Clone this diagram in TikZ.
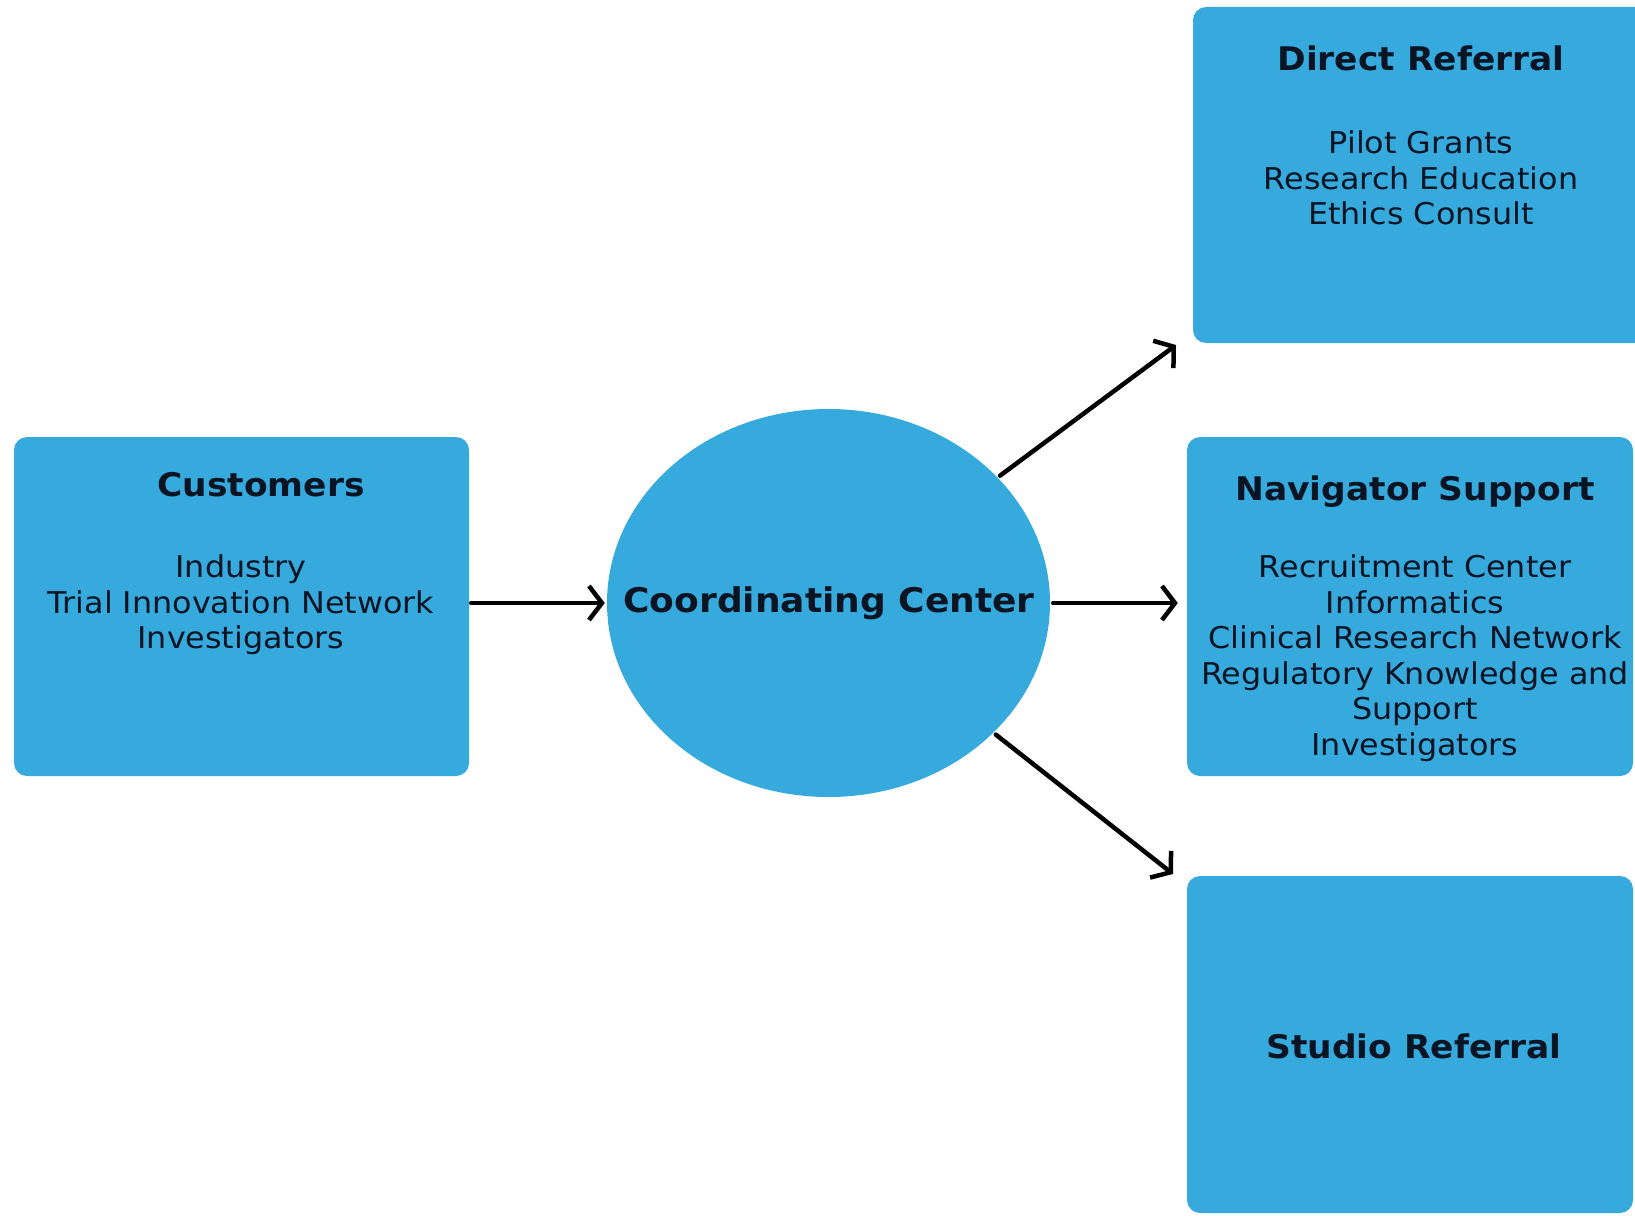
\documentclass[tikz,border=0pt]{standalone}
\usepackage{fontspec}
\setmainfont{DejaVu Sans}[FakeStretch=1.06]
\usepackage{tikz}
\usetikzlibrary{arrows.meta, shapes}
\definecolor{myblue1}{RGB}{54, 169, 221}
\definecolor{mytext}{RGB}{10, 20, 35}
\tikzset{>={Straight Barb[length=13pt, width=34pt, line width=4.5pt]}}
\tikzset{box/.style = {rectangle, rounded corners = 13pt, fill = myblue1, inner sep = 0pt},
  ttl/.style = {inner sep = 0pt, text = mytext, font = \fontsize{32.5}{36}\selectfont\bfseries},
  txt/.style = {inner sep = 0pt, align = center, text = mytext, font = \fontsize{30}{35.5}\selectfont},
  arr/.style = {->, line width = 4.5pt, line cap = round}}

\begin{document}
\begin{tikzpicture}[x = 1pt, y = -1pt]
\useasboundingbox (0,0) rectangle (1635,1215);
\clip (0,0) rectangle (1635,1215);
\node[box, minimum width = 455pt, minimum height = 339pt] (cust) at (241.5, 606.5) {};
\node[box, minimum width = 480pt, minimum height = 336pt] (dr) at (1433, 175) {};
\node[box, minimum width = 446pt, minimum height = 339pt] (nav) at (1410, 606.5) {};
\node[box, minimum width = 446pt, minimum height = 337pt] (sr) at (1410, 1044.5) {};
\node[ellipse, fill = myblue1, minimum width = 443pt, minimum height = 388pt, inner sep = 0pt] (cc) at (828.5, 603) {};

\node[ttl] (custT) at (261, 485) {Customers};
\node[txt] (custB) at (241, 605) {Industry\\Trial Innovation Network\\Investigators};
\node[ttl] (drT) at (1421, 58) {Direct Referral};
\node[txt] (drB) at (1421, 178) {Pilot Grants\\Research Education\\Ethics Consult};
\node[ttl] (navT) at (1415, 492) {Navigator Support};
\node[txt] (navB) at (1415, 658) {Recruitment Center\\Informatics\\Clinical Research Network\\Regulatory Knowledge and\\Support\\Investigators};
\node[ttl] (srT) at (1414, 1046) {Studio Referral};
\node[ttl, font = \fontsize{34}{36}\selectfont\bfseries] (ccT) at (829, 603) {Coordinating Center};

\coordinate (upEnd) at (1176, 345);
\coordinate (downEnd) at (1173, 874);
\draw[arr, shorten <= 2pt, shorten >= 2pt] (cust.east |- cc.west) -- (cc.west);
\draw[arr, shorten <= 3pt, shorten >= 9pt] (cc.east) -- (nav.west |- cc.east);
\draw[arr, shorten <= 3pt] (cc) -- (upEnd);
\draw[arr, shorten <= 3pt] (cc) -- (downEnd);
\end{tikzpicture}
\end{document}
